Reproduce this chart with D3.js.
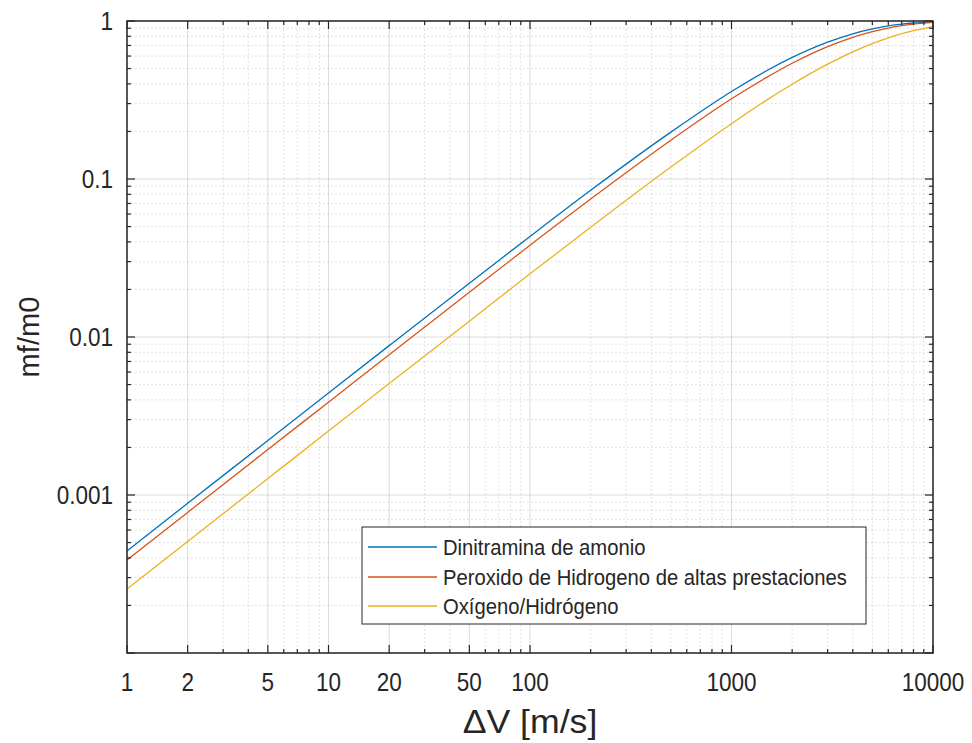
<!DOCTYPE html>
<html>
<head>
<meta charset="utf-8">
<script src="https://cdn.jsdelivr.net/npm/d3@7"></script>
<style>
  html, body { margin: 0; padding: 0; background: #ffffff; }
  svg { display: block; }
  text { font-family: "Liberation Sans", Arial, Helvetica, sans-serif; fill: #262626; }
</style>
</head>
<body>
<svg id="chart" width="972" height="743"></svg>
<script>
// ---- data ----
const deltaV = [1, 2, 5, 10, 20, 50, 100, 200, 500, 1000, 1500, 2000, 3000, 4000, 5000, 6000, 7000, 8000, 10000];
const adn   = [4.43e-4, 8.86e-4, 2.21e-3, 4.42e-3, 8.82e-3, 0.0219, 0.0433, 0.0848, 0.198, 0.358, 0.486, 0.588, 0.735, 0.830, 0.891, 0.930, 0.955, 0.971, 0.988];
const htp   = [3.88e-4, 7.76e-4, 1.94e-3, 3.87e-3, 7.73e-3, 0.0192, 0.0381, 0.0747, 0.176, 0.322, 0.441, 0.540, 0.688, 0.788, 0.856, 0.902, 0.934, 0.955, 0.979];
const loxh2 = [2.54e-4, 5.08e-4, 1.27e-3, 2.54e-3, 5.07e-3, 0.0126, 0.0251, 0.0495, 0.119, 0.224, 0.317, 0.398, 0.533, 0.638, 0.719, 0.782, 0.831, 0.869, 0.921];
const seriesNames = ["Dinitramina de amonio", "Peroxido de Hidrogeno de altas prestaciones", "Oxígeno/Hidrógeno"];
const xTickValues = [1, 2, 5, 10, 20, 50, 100, 1000, 10000];
const xTickLabels = ["1", "2", "5", "10", "20", "50", "100", "1000", "10000"];
const yTickValues = [1, 0.1, 0.01, 0.001];
const yTickLabels = ["1", "0.1", "0.01", "0.001"];
const xLabel = "\u0394V [m/s]";
const yLabel = "mf/m0";

// ---- layout / style ----
const L = 127, T = 21, R = 933, B = 653;
const colors = ["#0072BD", "#D95319", "#EDB120"];
const axisColor = "#262626";
const textScale = 0.9;

const svg = d3.select("#chart");
const x = d3.scaleLog().domain([1, 10000]).range([L, R]);
const y = d3.scaleLog().domain([1e-4, 1]).range([B, T]);

const isMajor = (arr, v) => arr.some(m => Math.abs(Math.log10(m) - Math.log10(v)) < 1e-9);
const xMinor = x.ticks().filter(v => !isMajor(xTickValues, v));
const yMinor = y.ticks().filter(v => !isMajor(yTickValues, v) && !isMajor([1e-4], v));
const yMajorAll = yTickValues.concat([1e-4]);

// grid
const grid = svg.append("g");
grid.selectAll("line.xminor").data(xMinor).join("line")
  .attr("x1", d => x(d)).attr("x2", d => x(d)).attr("y1", T).attr("y2", B)
  .attr("stroke", "rgba(38,38,38,0.22)").attr("stroke-width", 0.8).attr("stroke-dasharray", "1.5,2.5");
grid.selectAll("line.yminor").data(yMinor).join("line")
  .attr("y1", d => y(d)).attr("y2", d => y(d)).attr("x1", L).attr("x2", R)
  .attr("stroke", "rgba(38,38,38,0.22)").attr("stroke-width", 0.8).attr("stroke-dasharray", "1.5,2.5");
grid.selectAll("line.xmajor").data(xTickValues).join("line")
  .attr("x1", d => x(d)).attr("x2", d => x(d)).attr("y1", T).attr("y2", B)
  .attr("stroke", "rgba(38,38,38,0.16)").attr("stroke-width", 1);
grid.selectAll("line.ymajor").data(yMajorAll).join("line")
  .attr("y1", d => y(d)).attr("y2", d => y(d)).attr("x1", L).attr("x2", R)
  .attr("stroke", "rgba(38,38,38,0.16)").attr("stroke-width", 1);

// series lines
const seriesData = [adn, htp, loxh2];
const line = d3.line().x(d => x(d[0])).y(d => y(d[1])).curve(d3.curveMonotoneX);
seriesData.forEach((vals, i) => {
  svg.append("path")
    .datum(deltaV.map((dv, k) => [dv, vals[k]]))
    .attr("fill", "none").attr("stroke", colors[i]).attr("stroke-width", 1.3)
    .attr("d", line);
});

// axes (MATLAB box style, ticks inside)
const tickMaj = 8, tickMin = 4;
const axes = svg.append("g").attr("stroke", axisColor);
const xTicksAll = xTickValues.map(v => [v, tickMaj]).concat(xMinor.map(v => [v, tickMin]));
const yTicksAll = yMajorAll.map(v => [v, tickMaj]).concat(yMinor.map(v => [v, tickMin]));
axes.selectAll("line.xb").data(xTicksAll).join("line")
  .attr("x1", d => x(d[0])).attr("x2", d => x(d[0])).attr("y1", B).attr("y2", d => B - d[1]).attr("stroke-width", 1.2);
axes.selectAll("line.xt").data(xTicksAll).join("line")
  .attr("x1", d => x(d[0])).attr("x2", d => x(d[0])).attr("y1", T).attr("y2", d => T + d[1]).attr("stroke-width", 1.2);
axes.selectAll("line.yl").data(yTicksAll).join("line")
  .attr("y1", d => y(d[0])).attr("y2", d => y(d[0])).attr("x1", L).attr("x2", d => L + d[1]).attr("stroke-width", 1.2);
axes.selectAll("line.yr").data(yTicksAll).join("line")
  .attr("y1", d => y(d[0])).attr("y2", d => y(d[0])).attr("x1", R).attr("x2", d => R - d[1]).attr("stroke-width", 1.2);
svg.append("rect").attr("x", L).attr("y", T).attr("width", R - L).attr("height", B - T)
  .attr("fill", "none").attr("stroke", axisColor).attr("stroke-width", 1.5);

function squeeze(sel, k) {
  sel.each(function () {
    const w = this.getComputedTextLength();
    d3.select(this).attr("textLength", w * k).attr("lengthAdjust", "spacingAndGlyphs");
  });
}

// tick labels
svg.append("g").selectAll("text").data(xTickValues).join("text")
  .attr("x", d => x(d)).attr("y", 691).attr("text-anchor", "middle")
  .style("font-size", "25px").text((d, i) => xTickLabels[i])
  .call(squeeze, textScale);
svg.append("g").selectAll("text").data(yTickValues).join("text")
  .attr("x", 113).attr("y", d => y(d) + 9).attr("text-anchor", "end")
  .style("font-size", "25px").text((d, i) => yTickLabels[i])
  .call(squeeze, textScale);

// axis titles
svg.append("text").attr("x", (L + R) / 2).attr("y", 733).attr("text-anchor", "middle")
  .style("font-size", "33px").text(xLabel).call(squeeze, 1.08);
svg.append("text").attr("transform", `translate(39,${(T + B) / 2}) rotate(-90)`)
  .attr("text-anchor", "middle").style("font-size", "30px").text(yLabel).call(squeeze, 0.97);

// legend
const lg = svg.append("g");
lg.append("rect").attr("x", 362).attr("y", 527).attr("width", 504).attr("height", 97)
  .attr("fill", "#ffffff").attr("stroke", axisColor).attr("stroke-width", 1);
const rowY = [547, 577, 606];
seriesNames.forEach((name, i) => {
  lg.append("line").attr("x1", 368).attr("x2", 437).attr("y1", rowY[i]).attr("y2", rowY[i])
    .attr("stroke", colors[i]).attr("stroke-width", 1.3);
  lg.append("text").attr("x", 443).attr("y", rowY[i] + 8).style("font-size", "22px").text(name)
    .call(squeeze, 0.92);
});
</script>
</body>
</html>
